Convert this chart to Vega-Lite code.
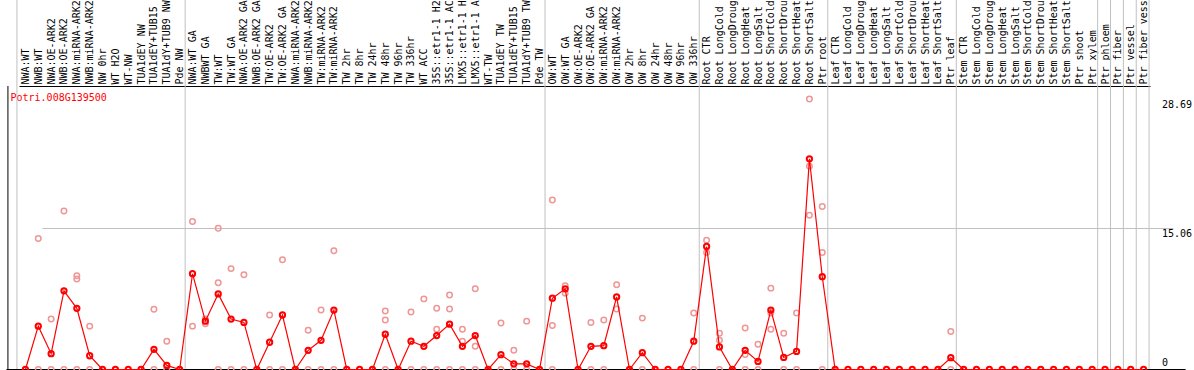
{
  "$schema": "https://vega.github.io/schema/vega-lite/v6.json",
  "width": 1192,
  "height": 369.5,
  "autosize": {"type": "none"},
  "padding": 0,
  "background": "white",
  "config": {"view": {"stroke": null}, "font": "DejaVu Sans Mono"},
  "datasets": {
    "means": [
      {"cat": "NWA:WT", "v": 0}, {"cat": "NWB:WT", "v": 4.6}, {"cat": "NWA:OE-ARK2", "v": 1.68}, {"cat": "NWB:OE-ARK2", "v": 8.34},
      {"cat": "NWA:miRNA-ARK2", "v": 6.49}, {"cat": "NWB:miRNA-ARK2", "v": 1.46}, {"cat": "NW 0hr", "v": 0}, {"cat": "WT H2O", "v": 0},
      {"cat": "WT-NW", "v": 0}, {"cat": "TUA1dEY NW", "v": 0}, {"cat": "TUA1dEY+TUB15 NW", "v": 2.14}, {"cat": "TUA1dY+TUB9 NW", "v": 0.43},
      {"cat": "Pde NW", "v": 0}, {"cat": "NWA:WT GA", "v": 10.16}, {"cat": "NWBWT GA", "v": 5.13}, {"cat": "TW:WT", "v": 8.02},
      {"cat": "TW:WT GA", "v": 5.35}, {"cat": "NWA:OE-ARK2 GA", "v": 4.99}, {"cat": "NWB:OE-ARK2 GA", "v": 0}, {"cat": "TW:OE-ARK2", "v": 2.89},
      {"cat": "TW:OE-ARK2 GA", "v": 5.78}, {"cat": "NWA:miRNA-ARK2 GA", "v": 0}, {"cat": "NWB:miRNA-ARK2 GA", "v": 2.03}, {"cat": "TW:miRNA-ARK2", "v": 3.1},
      {"cat": "TW:miRNA-ARK2 GA", "v": 6.3}, {"cat": "TW 2hr", "v": 0}, {"cat": "TW 8hr", "v": 0}, {"cat": "TW 24hr", "v": 0},
      {"cat": "TW 48hr", "v": 3.74}, {"cat": "TW 96hr", "v": 0}, {"cat": "TW 336hr", "v": 3.0}, {"cat": "WT ACC", "v": 2.46},
      {"cat": "35S::etr1-1 H2O", "v": 3.6}, {"cat": "35S::etr1-1 ACC", "v": 4.81}, {"cat": "LMX5::etr1-1 H2O", "v": 2.46}, {"cat": "LMX5::etr1-1 ACC", "v": 3.6},
      {"cat": "WT-TW", "v": 0}, {"cat": "TUA1dEY TW", "v": 1.57}, {"cat": "TUA1dEY+TUB15 TW", "v": 0.6}, {"cat": "TUA1dY+TUB9 TW", "v": 0.6},
      {"cat": "Pde TW", "v": 0}, {"cat": "OW:WT", "v": 7.56}, {"cat": "OW:WT GA", "v": 8.56}, {"cat": "OW:OE-ARK2", "v": 0},
      {"cat": "OW:OE-ARK2 GA", "v": 2.46}, {"cat": "OW:miRNA-ARK2", "v": 2.53}, {"cat": "OW:miRNA-ARK2 GA", "v": 7.7}, {"cat": "OW 2hr", "v": 0},
      {"cat": "OW 8hr", "v": 1.78}, {"cat": "OW 24hr", "v": 0}, {"cat": "OW 48hr", "v": 0}, {"cat": "OW 96hr", "v": 0},
      {"cat": "OW 336hr", "v": 3.0}, {"cat": "Root CTR", "v": 13.05}, {"cat": "Root LongCold", "v": 2.39}, {"cat": "Root LongDrought", "v": 0},
      {"cat": "Root LongHeat", "v": 2.03}, {"cat": "Root LongSalt", "v": 0.86}, {"cat": "Root ShortCold", "v": 6.3}, {"cat": "Root ShortDrought", "v": 1.28},
      {"cat": "Root ShortHeat", "v": 1.92}, {"cat": "Root ShortSalt", "v": 22.35}, {"cat": "Ptr root", "v": 9.84}, {"cat": "Leaf CTR", "v": 0},
      {"cat": "Leaf LongCold", "v": 0}, {"cat": "Leaf LongDrought", "v": 0}, {"cat": "Leaf LongHeat", "v": 0}, {"cat": "Leaf LongSalt", "v": 0},
      {"cat": "Leaf ShortCold", "v": 0}, {"cat": "Leaf ShortDrought", "v": 0}, {"cat": "Leaf ShortHeat", "v": 0}, {"cat": "Leaf ShortSalt", "v": 0},
      {"cat": "Ptr leaf", "v": 1.25}, {"cat": "Stem CTR", "v": 0}, {"cat": "Stem LongCold", "v": 0}, {"cat": "Stem LongDrought", "v": 0},
      {"cat": "Stem LongHeat", "v": 0}, {"cat": "Stem LongSalt", "v": 0}, {"cat": "Stem ShortCold", "v": 0}, {"cat": "Stem ShortDrought", "v": 0},
      {"cat": "Stem ShortHeat", "v": 0}, {"cat": "Stem ShortSalt", "v": 0}, {"cat": "Ptr shoot", "v": 0}, {"cat": "Ptr xylem", "v": 0},
      {"cat": "Ptr phloem", "v": 0}, {"cat": "Ptr fiber", "v": 0}, {"cat": "Ptr vessel", "v": 0}, {"cat": "Ptr fiber vessel", "v": 0}
    ],
    "reps": [
      {"cat": "NWB:WT", "v": 13.9}, {"cat": "NWB:WT", "v": 0},
      {"cat": "NWA:OE-ARK2", "v": 5.35}, {"cat": "NWA:OE-ARK2", "v": 0},
      {"cat": "NWB:OE-ARK2", "v": 16.8}, {"cat": "NWB:OE-ARK2", "v": 0},
      {"cat": "NWA:miRNA-ARK2", "v": 9.95}, {"cat": "NWA:miRNA-ARK2", "v": 9.6}, {"cat": "NWA:miRNA-ARK2", "v": 0},
      {"cat": "NWB:miRNA-ARK2", "v": 4.6}, {"cat": "NWB:miRNA-ARK2", "v": 0},
      {"cat": "TUA1dEY+TUB15 NW", "v": 6.4}, {"cat": "TUA1dEY+TUB15 NW", "v": 0},
      {"cat": "TUA1dY+TUB9 NW", "v": 3.0}, {"cat": "TUA1dY+TUB9 NW", "v": 0},
      {"cat": "NWA:WT GA", "v": 15.7}, {"cat": "NWA:WT GA", "v": 4.6},
      {"cat": "NWBWT GA", "v": 5.35}, {"cat": "NWBWT GA", "v": 4.85},
      {"cat": "TW:WT", "v": 14.97}, {"cat": "TW:WT", "v": 9.2}, {"cat": "TW:WT", "v": 0},
      {"cat": "TW:WT GA", "v": 10.7}, {"cat": "TW:WT GA", "v": 0},
      {"cat": "NWA:OE-ARK2 GA", "v": 10.05}, {"cat": "NWA:OE-ARK2 GA", "v": 0},
      {"cat": "TW:OE-ARK2", "v": 5.78}, {"cat": "TW:OE-ARK2", "v": 0},
      {"cat": "TW:OE-ARK2 GA", "v": 11.64}, {"cat": "TW:OE-ARK2 GA", "v": 0},
      {"cat": "NWB:miRNA-ARK2 GA", "v": 4.17}, {"cat": "NWB:miRNA-ARK2 GA", "v": 0},
      {"cat": "TW:miRNA-ARK2", "v": 6.3}, {"cat": "TW:miRNA-ARK2", "v": 0},
      {"cat": "TW:miRNA-ARK2 GA", "v": 12.6}, {"cat": "TW:miRNA-ARK2 GA", "v": 0},
      {"cat": "TW 48hr", "v": 6.2}, {"cat": "TW 48hr", "v": 5.24}, {"cat": "TW 48hr", "v": 0},
      {"cat": "TW 336hr", "v": 6.1}, {"cat": "TW 336hr", "v": 0},
      {"cat": "WT ACC", "v": 7.49}, {"cat": "WT ACC", "v": 0},
      {"cat": "35S::etr1-1 H2O", "v": 6.49}, {"cat": "35S::etr1-1 H2O", "v": 4.28}, {"cat": "35S::etr1-1 H2O", "v": 0},
      {"cat": "35S::etr1-1 ACC", "v": 7.91}, {"cat": "35S::etr1-1 ACC", "v": 6.42}, {"cat": "35S::etr1-1 ACC", "v": 0},
      {"cat": "LMX5::etr1-1 H2O", "v": 4.28}, {"cat": "LMX5::etr1-1 H2O", "v": 3.0}, {"cat": "LMX5::etr1-1 H2O", "v": 0},
      {"cat": "LMX5::etr1-1 ACC", "v": 8.56}, {"cat": "LMX5::etr1-1 ACC", "v": 2.46}, {"cat": "LMX5::etr1-1 ACC", "v": 0},
      {"cat": "TUA1dEY TW", "v": 4.92}, {"cat": "TUA1dEY TW", "v": 0},
      {"cat": "TUA1dEY+TUB15 TW", "v": 2.03}, {"cat": "TUA1dEY+TUB15 TW", "v": 0},
      {"cat": "TUA1dY+TUB9 TW", "v": 5.13}, {"cat": "TUA1dY+TUB9 TW", "v": 0},
      {"cat": "OW:WT", "v": 17.97}, {"cat": "OW:WT", "v": 4.67}, {"cat": "OW:WT", "v": 0},
      {"cat": "OW:WT GA", "v": 8.88}, {"cat": "OW:WT GA", "v": 8.1},
      {"cat": "OW:OE-ARK2 GA", "v": 4.99}, {"cat": "OW:OE-ARK2 GA", "v": 0},
      {"cat": "OW:miRNA-ARK2", "v": 5.24}, {"cat": "OW:miRNA-ARK2", "v": 0},
      {"cat": "OW:miRNA-ARK2 GA", "v": 8.98}, {"cat": "OW:miRNA-ARK2 GA", "v": 6.42},
      {"cat": "OW 8hr", "v": 5.45}, {"cat": "OW 8hr", "v": 0},
      {"cat": "OW 336hr", "v": 6.0}, {"cat": "OW 336hr", "v": 0},
      {"cat": "Root CTR", "v": 13.7}, {"cat": "Root CTR", "v": 12.4},
      {"cat": "Root LongCold", "v": 3.85}, {"cat": "Root LongCold", "v": 3.1}, {"cat": "Root LongCold", "v": 0},
      {"cat": "Root LongHeat", "v": 4.39}, {"cat": "Root LongHeat", "v": 1.6}, {"cat": "Root LongHeat", "v": 0},
      {"cat": "Root LongSalt", "v": 2.67}, {"cat": "Root LongSalt", "v": 0},
      {"cat": "Root ShortCold", "v": 8.63}, {"cat": "Root ShortCold", "v": 6.0}, {"cat": "Root ShortCold", "v": 4.28},
      {"cat": "Root ShortDrought", "v": 3.85}, {"cat": "Root ShortDrought", "v": 0},
      {"cat": "Root ShortHeat", "v": 6.0}, {"cat": "Root ShortHeat", "v": 0},
      {"cat": "Root ShortSalt", "v": 28.69}, {"cat": "Root ShortSalt", "v": 21.57}, {"cat": "Root ShortSalt", "v": 16.36},
      {"cat": "Ptr root", "v": 17.3}, {"cat": "Ptr root", "v": 12.4}, {"cat": "Ptr root", "v": 0},
      {"cat": "Ptr leaf", "v": 4.03}, {"cat": "Ptr leaf", "v": 0}
    ],
    "bounds": [
      {"cat": "Pde NW"}, {"cat": "Pde TW"}, {"cat": "OW 336hr"}, {"cat": "Ptr root"}, {"cat": "Ptr leaf"},
      {"cat": "Ptr xylem"}, {"cat": "Ptr phloem"}, {"cat": "Ptr fiber"}, {"cat": "Ptr vessel"}, {"cat": "Ptr fiber vessel"}
    ]
  },
  "encoding": {
    "x": {
      "field": "cat",
      "type": "ordinal",
      "scale": {
        "type": "point",
        "range": [19, 1150],
        "domain": ["NWA:WT", "NWB:WT", "NWA:OE-ARK2", "NWB:OE-ARK2", "NWA:miRNA-ARK2", "NWB:miRNA-ARK2", "NW 0hr", "WT H2O", "WT-NW", "TUA1dEY NW", "TUA1dEY+TUB15 NW", "TUA1dY+TUB9 NW", "Pde NW", "NWA:WT GA", "NWBWT GA", "TW:WT", "TW:WT GA", "NWA:OE-ARK2 GA", "NWB:OE-ARK2 GA", "TW:OE-ARK2", "TW:OE-ARK2 GA", "NWA:miRNA-ARK2 GA", "NWB:miRNA-ARK2 GA", "TW:miRNA-ARK2", "TW:miRNA-ARK2 GA", "TW 2hr", "TW 8hr", "TW 24hr", "TW 48hr", "TW 96hr", "TW 336hr", "WT ACC", "35S::etr1-1 H2O", "35S::etr1-1 ACC", "LMX5::etr1-1 H2O", "LMX5::etr1-1 ACC", "WT-TW", "TUA1dEY TW", "TUA1dEY+TUB15 TW", "TUA1dY+TUB9 TW", "Pde TW", "OW:WT", "OW:WT GA", "OW:OE-ARK2", "OW:OE-ARK2 GA", "OW:miRNA-ARK2", "OW:miRNA-ARK2 GA", "OW 2hr", "OW 8hr", "OW 24hr", "OW 48hr", "OW 96hr", "OW 336hr", "Root CTR", "Root LongCold", "Root LongDrought", "Root LongHeat", "Root LongSalt", "Root ShortCold", "Root ShortDrought", "Root ShortHeat", "Root ShortSalt", "Ptr root", "Leaf CTR", "Leaf LongCold", "Leaf LongDrought", "Leaf LongHeat", "Leaf LongSalt", "Leaf ShortCold", "Leaf ShortDrought", "Leaf ShortHeat", "Leaf ShortSalt", "Ptr leaf", "Stem CTR", "Stem LongCold", "Stem LongDrought", "Stem LongHeat", "Stem LongSalt", "Stem ShortCold", "Stem ShortDrought", "Stem ShortHeat", "Stem ShortSalt", "Ptr shoot", "Ptr xylem", "Ptr phloem", "Ptr fiber", "Ptr vessel", "Ptr fiber vessel"]
      },
      "axis": {
        "orient": "top",
        "offset": -86,
        "title": null,
        "labelAngle": -90,
        "labelAlign": "left",
        "labelBaseline": "middle",
        "labelPadding": 2,
        "labelFont": "DejaVu Sans Mono",
        "labelFontSize": 10,
        "labelColor": "black",
        "labelLimit": 0,
        "labelOverlap": false,
        "labelBound": false,
        "labelFlush": false,
        "ticks": false,
        "grid": false,
        "domain": true,
        "domainColor": "black",
        "domainWidth": 1
      }
    }
  },
  "layer": [
    {
      "data": {"name": "bounds"},
      "mark": {"type": "rule", "color": "#c0c0c0", "strokeWidth": 1, "xOffset": 5.5},
      "encoding": {}
    },
    {
      "data": {"values": [{"cat": "NWA:WT"}]},
      "mark": {"type": "rule", "color": "#c0c0c0", "strokeWidth": 1, "xOffset": -8.5},
      "encoding": {}
    },
    {
      "data": {"values": [{"cat": "NWA:WT"}]},
      "mark": {"type": "rule", "color": "black", "strokeWidth": 1, "xOffset": -17.5},
      "encoding": {
        "y": {"datum": 0, "type": "quantitative", "scale": {"domain": [0, 39.19], "nice": false, "zero": true}},
        "y2": {"datum": 30.07}
      }
    },
    {
      "data": {"values": [{"cat": "NWA:WT"}]},
      "mark": {"type": "rule", "color": "black", "strokeWidth": 1, "xOffset": -19, "x2Offset": 42},
      "encoding": {
        "x2": {"datum": "Ptr fiber vessel"},
        "y": {"datum": 0, "type": "quantitative", "scale": {"domain": [0, 39.19], "nice": false, "zero": true}}
      }
    },
    {
      "data": {"name": "reps"},
      "mark": {"type": "point", "shape": "circle", "filled": false, "color": "#ef9696", "strokeWidth": 1.5, "size": 30, "opacity": 1},
      "encoding": {
        "y": {
          "field": "v",
          "type": "quantitative",
          "title": "Potri.008G139500",
          "scale": {"domain": [0, 39.19], "nice": false, "zero": true},
          "axis": {
            "orient": "right",
            "values": [0, 15.06, 28.69],
            "labelExpr": "datum.value == 0 ? '0' : format(datum.value, '.2f')",
            "grid": true,
            "gridColor": "#c0c0c0",
            "gridWidth": 1,
            "gridOpacity": {"condition": {"test": "datum.value > 20 || datum.value == 0", "value": 0}, "value": 1},
            "ticks": false,
            "domain": true,
            "domainColor": "black",
            "domainWidth": 1,
            "labelAlign": "left",
            "labelPadding": -30.5,
            "labelBaseline": {"condition": {"test": "datum.value == 0", "value": "alphabetic"}, "value": "top"},
            "labelOffset": {"condition": {"test": "datum.value == 0", "value": -4}, "value": 1},
            "labelFont": "DejaVu Sans Mono",
            "labelFontSize": 10,
            "labelColor": "black",
            "labelBound": false,
            "labelFlush": false,
            "labelOverlap": false,
            "title": "Potri.008G139500",
            "titleX": -1182,
            "titleY": 100.5,
            "titleAngle": 0,
            "titleAlign": "left",
            "titleBaseline": "alphabetic",
            "titleColor": "red",
            "titleFont": "DejaVu Sans Mono",
            "titleFontSize": 10,
            "titleFontWeight": "normal"
          }
        }
      }
    },
    {
      "data": {"name": "means"},
      "mark": {"type": "line", "color": "red", "strokeWidth": 1.2},
      "encoding": {
        "y": {"field": "v", "type": "quantitative", "title": "Potri.008G139500", "scale": {"domain": [0, 39.19], "nice": false, "zero": true}}
      }
    },
    {
      "data": {"name": "means"},
      "mark": {"type": "point", "shape": "circle", "filled": false, "color": "red", "strokeWidth": 2, "size": 28, "opacity": 1},
      "encoding": {
        "y": {"field": "v", "type": "quantitative", "title": "Potri.008G139500", "scale": {"domain": [0, 39.19], "nice": false, "zero": true}}
      }
    }
  ]
}
